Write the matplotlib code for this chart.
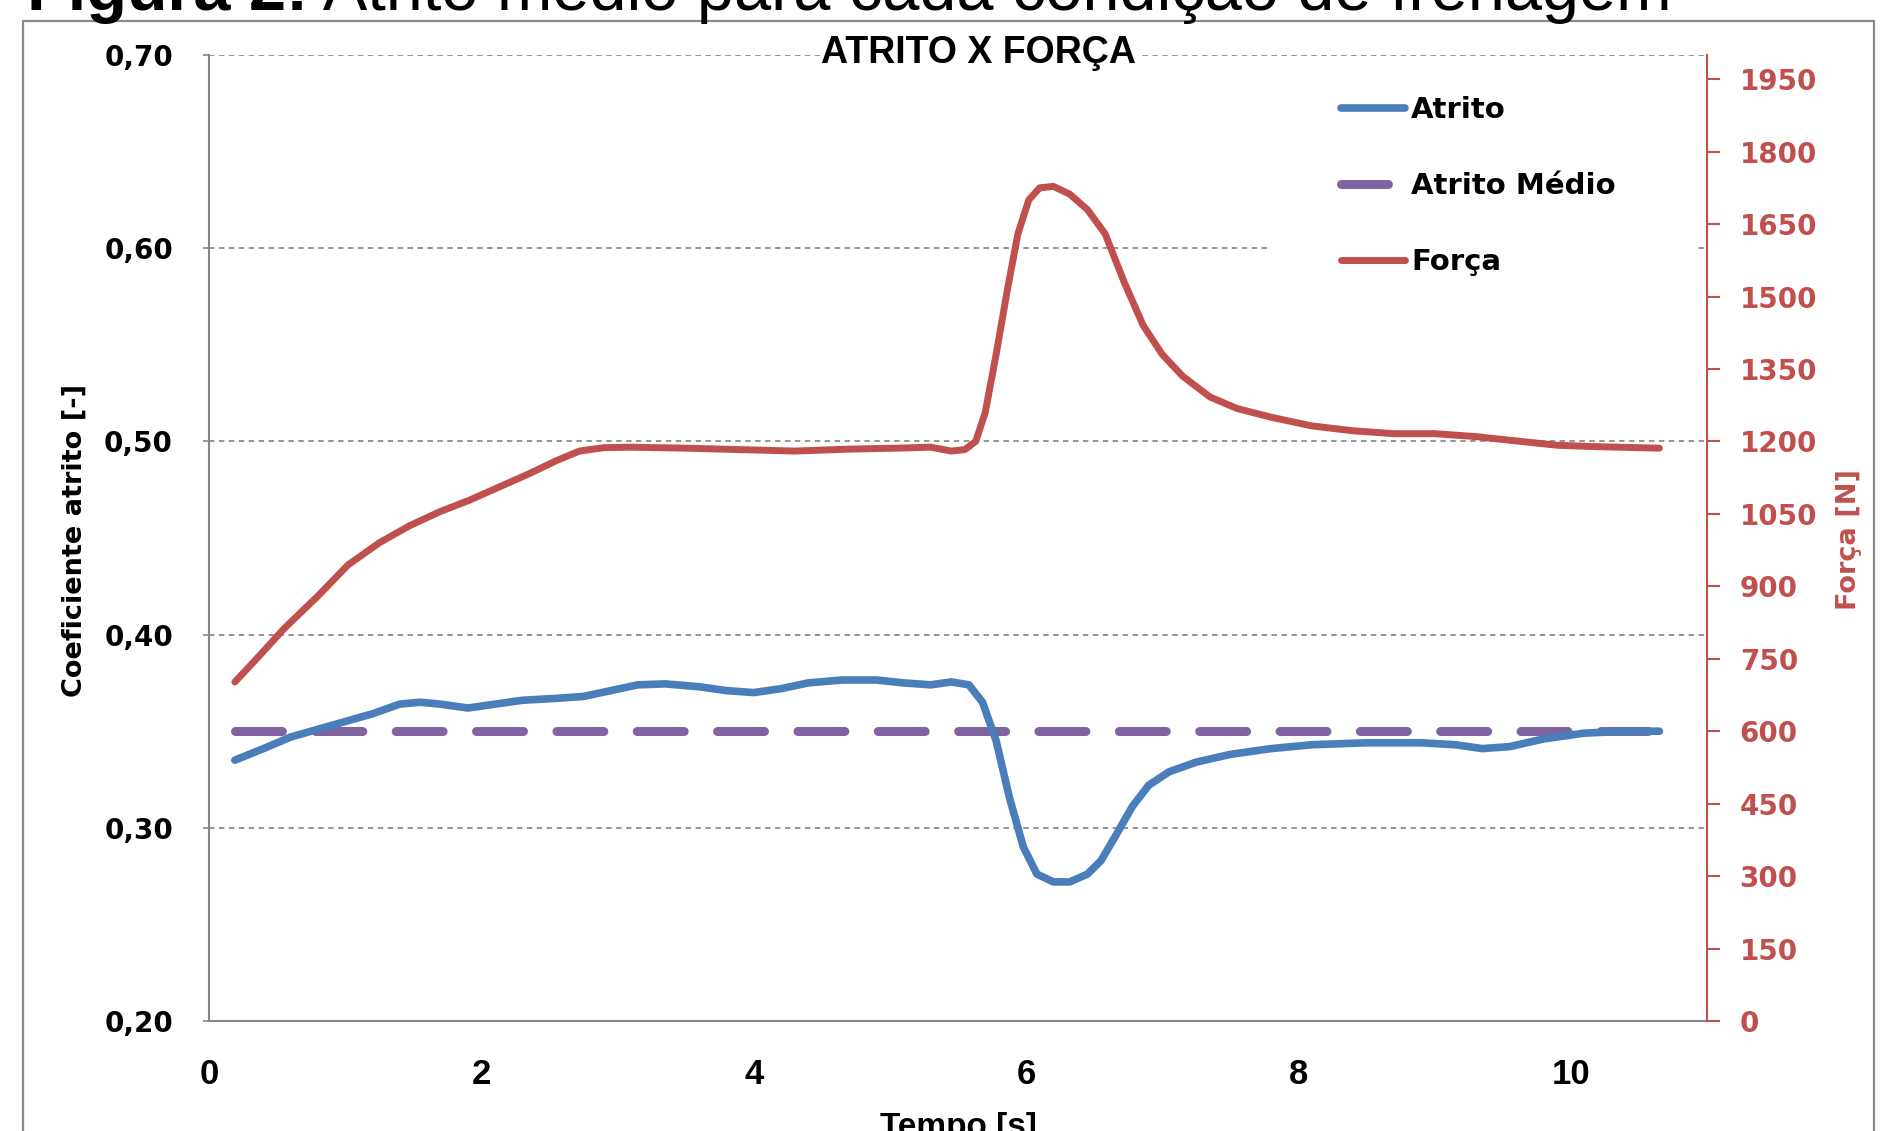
import matplotlib
matplotlib.use("Agg")
import matplotlib.pyplot as plt
import matplotlib.patches as patches
import matplotlib.ticker as plticker

# Dados
tempo_forca = [0.19, 0.35, 0.55, 0.80, 1.02, 1.25, 1.47, 1.70, 1.91, 2.15, 2.35, 2.55,
               2.72, 2.90, 3.10, 3.50, 3.90, 4.30, 4.70, 5.05, 5.30, 5.45, 5.55, 5.63,
               5.70, 5.78, 5.86, 5.94, 6.02, 6.10, 6.20, 6.32, 6.45, 6.58, 6.72, 6.86,
               7.00, 7.15, 7.35, 7.55, 7.80, 8.10, 8.40, 8.70, 9.00, 9.30, 9.60, 9.90,
               10.20, 10.65]
forca = [702, 750, 812, 880, 944, 990, 1025, 1055, 1078, 1108, 1133, 1160,
         1180, 1187, 1188, 1186, 1183, 1180, 1184, 1186, 1188, 1180, 1183, 1200,
         1260, 1380, 1510, 1630, 1700, 1725, 1728, 1712, 1680, 1630, 1530, 1440,
         1380, 1335, 1292, 1268, 1250, 1232, 1222, 1216, 1216, 1210, 1201, 1192,
         1189, 1186]

tempo_atrito = [0.19, 0.40, 0.60, 0.80, 1.00, 1.20, 1.40, 1.55, 1.70, 1.90, 2.10, 2.30,
                2.55, 2.75, 2.95, 3.15, 3.35, 3.60, 3.80, 4.00, 4.20, 4.40, 4.65, 4.90,
                5.10, 5.30, 5.45, 5.58, 5.68, 5.78, 5.88, 5.98, 6.08, 6.20, 6.32, 6.45,
                6.55, 6.65, 6.78, 6.90, 7.05, 7.25, 7.50, 7.80, 8.10, 8.50, 8.90, 9.15,
                9.35, 9.55, 9.80, 10.10, 10.40, 10.65]
atrito = [0.335, 0.341, 0.347, 0.351, 0.355, 0.359, 0.364, 0.365, 0.364, 0.362, 0.364, 0.366,
          0.367, 0.368, 0.371, 0.374, 0.3745, 0.373, 0.371, 0.370, 0.372, 0.375, 0.3765, 0.3765,
          0.375, 0.374, 0.3755, 0.374, 0.365, 0.345, 0.315, 0.290, 0.276, 0.272, 0.272, 0.276,
          0.283, 0.295, 0.311, 0.322, 0.329, 0.334, 0.338, 0.341, 0.343, 0.344, 0.344, 0.343,
          0.341, 0.342, 0.346, 0.349, 0.350, 0.350]

atrito_medio = 0.35
tempo_medio = [0.19, 10.65]

y_ticks = [0.20, 0.30, 0.40, 0.50, 0.60, 0.70]
y2_ticks = list(range(0, 2000, 150))
x_ticks = [0, 2, 4, 6, 8, 10]

AZUL = "#4A7EBB"
VERMELHO = "#C0504D"
ROXO = "#8064A2"
CINZA = "#868686"

SANS = "Liberation Sans"

W, H = 1886, 1131
fig = plt.figure(figsize=(W / 100, H / 100), dpi=100)
ax = fig.add_axes([209 / W, 1 - 1021 / H, 1498 / W, 966 / H])
ax2 = ax.twinx()

ax.set_xlim(0, 11)
ax.set_ylim(0.20, 0.70)
ax2.set_ylim(0, 2000)

# grade tracejada
for v in y_ticks[1:]:
    ax.axhline(v, color="#8c8c8c", lw=1.3, ls=(0, (3, 2.5)), zorder=1)

# fundo branco da legenda (interrompe a grade)
ax.add_patch(patches.Rectangle((1271 / W, 1 - 300 / H), (1696 - 1271) / W, (300 - 72) / H,
                               transform=fig.transFigure, facecolor="white",
                               edgecolor="none", zorder=2))

l_med, = ax.plot(tempo_medio, [atrito_medio] * len(tempo_medio), color=ROXO, lw=6.5,
                 dashes=(5.2, 3.7), dash_capstyle="round", solid_capstyle="round", zorder=3)
l_atr, = ax.plot(tempo_atrito, atrito, color=AZUL, lw=5.5, solid_capstyle="round",
                 solid_joinstyle="round", zorder=4)
l_for, = ax2.plot(tempo_forca, forca, color=VERMELHO, lw=5, solid_capstyle="round",
                  solid_joinstyle="round", zorder=4)

# eixos
for s in ["top", "right"]:
    ax.spines[s].set_visible(False)
for s in ["top", "left", "bottom"]:
    ax2.spines[s].set_visible(False)
ax.spines["left"].set_color(CINZA)
ax.spines["bottom"].set_color(CINZA)
ax.spines["left"].set_linewidth(1.5)
ax.spines["bottom"].set_linewidth(1.5)
ax2.spines["right"].set_color(VERMELHO)
ax2.spines["right"].set_linewidth(1.5)

ax.set_yticks(y_ticks)
ax.yaxis.set_major_formatter(plticker.FuncFormatter(lambda v, p: f"{v:.2f}".replace(".", ",")))
ax.tick_params(axis="y", length=4, width=1.2, color=CINZA, pad=22)
for lb in ax.get_yticklabels():
    lb.set_fontfamily("DejaVu Sans")
    lb.set_fontweight("bold")
    lb.set_fontsize(20)

ax.set_xticks(x_ticks)
ax.tick_params(axis="x", length=0, pad=27, labelsize=25)
for lb in ax.get_xticklabels():
    lb.set_fontfamily(SANS)
    lb.set_fontweight("bold")

ax2.set_yticks(y2_ticks)
ax2.tick_params(axis="y", length=9.5, width=1.5, color=VERMELHO, labelcolor=VERMELHO, pad=14)
for lb in ax2.get_yticklabels():
    lb.set_fontfamily("DejaVu Sans")
    lb.set_fontweight("bold")
    lb.set_fontsize(20)

# rótulos
fig.text(75 / W, 1 - 540 / H, "Coeficiente atrito [-]", rotation=90, ha="center", va="center",
         fontsize=19.5, fontweight="bold", family="DejaVu Sans")
fig.text(1849 / W, 1 - 540 / H, "Força [N]", rotation=90, ha="center", va="center",
         fontsize=19.5, fontweight="bold", family="DejaVu Sans", color=VERMELHO)
fig.text(958 / W, 1 - 1112 / H, "Tempo [s]", ha="center", va="top",
         fontsize=24, fontweight="bold", family=SANS)
fig.text(979 / W, 1 - 53 / H, "ATRITO X FORÇA", ha="center", va="center",
         fontsize=27, fontweight="bold", family=SANS,
         bbox=dict(facecolor="white", edgecolor="none", pad=1), zorder=5)

# legenda
leg = ax2.legend([l_atr, l_med, l_for], ["Atrito", "Atrito Médio", "Força"],
                 loc="upper left", bbox_to_anchor=(1341 / W, 1 - 96 / H),
                 bbox_transform=fig.transFigure, frameon=False, borderpad=0,
                 borderaxespad=0, handlelength=2.2, handletextpad=0.2, labelspacing=1.65,
                 prop=dict(family="DejaVu Sans", weight="bold", size=21))

# moldura externa
fig.add_artist(patches.Rectangle((23 / W, -0.2), (1874 - 23) / W, 1.2 - 21 / H,
                                 transform=fig.transFigure, fill=False,
                                 edgecolor="#8a8a8a", lw=1.6, clip_on=False))

# legenda da figura (cortada no topo)
t1 = fig.text(27 / W, 1 - 10 / H, "Figura 2:", ha="left", va="baseline",
              fontsize=48, fontweight="bold", family=SANS)
fig.canvas.draw()
bb = t1.get_window_extent(fig.canvas.get_renderer())
fig.text(bb.x1 / W, 1 - 10 / H, " Atrito médio para cada condição de frenagem", ha="left",
         va="baseline", fontsize=48, family=SANS)

fig.savefig("out.png", dpi=100)
